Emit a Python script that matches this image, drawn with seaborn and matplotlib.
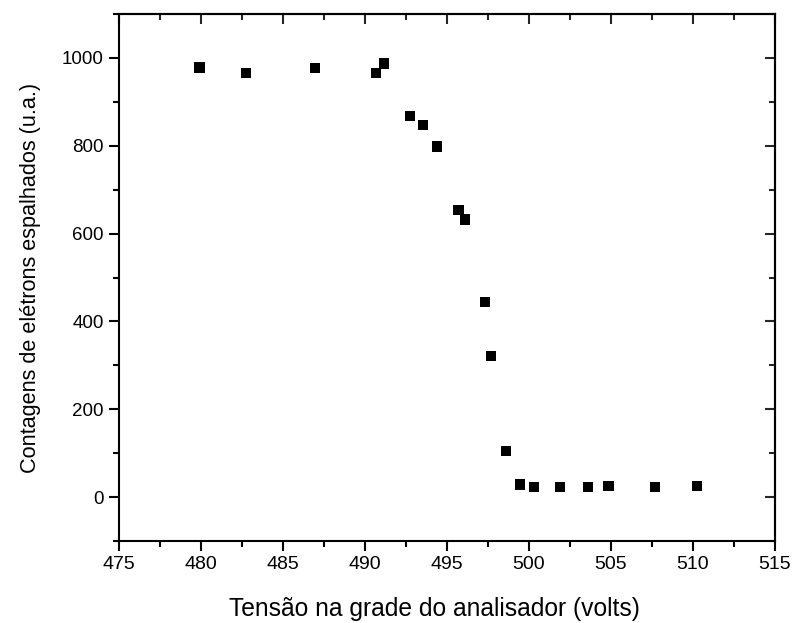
import matplotlib
matplotlib.use("Agg")
import matplotlib.pyplot as plt
import seaborn as sns
import pandas as pd
from matplotlib.ticker import MultipleLocator

voltage = [479.9, 482.75, 486.95, 490.65, 491.15, 492.75, 493.55, 494.4, 495.7, 496.1,
           497.3, 497.7, 498.6, 499.45, 500.3, 501.9, 503.6, 504.85, 507.7, 510.25]
counts = [978, 966, 977, 965, 987, 868, 847, 798, 654, 632,
          444, 321, 105, 29, 23, 23, 23, 26, 23, 26]

df = pd.DataFrame({"v": voltage, "c": counts})

sns.set_theme(style="ticks")
plt.rcParams['font.family'] = ['Liberation Sans', 'DejaVu Sans']
plt.rcParams['text.color'] = 'black'
plt.rcParams['axes.labelcolor'] = 'black'

fig = plt.figure(figsize=(7.97, 6.23), dpi=100)
ax = fig.add_axes([0.1493, 0.1316, 0.8231, 0.8459])

sns.scatterplot(data=df, x="v", y="c", marker="s", s=55, color="black",
                edgecolor="none", ax=ax, zorder=3)

ax.set_xlim(475, 515)
ax.set_ylim(-100, 1100)
ax.xaxis.set_major_locator(MultipleLocator(5))
ax.xaxis.set_minor_locator(MultipleLocator(2.5))
ax.yaxis.set_major_locator(MultipleLocator(200))
ax.yaxis.set_minor_locator(MultipleLocator(100))
ax.set_yticks([0, 200, 400, 600, 800, 1000])

for sp in ax.spines.values():
    sp.set_linewidth(1.5)
    sp.set_color("black")

ax.tick_params(which="both", direction="out", top=False, right=False, width=1.5,
               colors="black", pad=4)
ax.tick_params(axis="x", labelsize=14)
ax.tick_params(axis="y", labelsize=13.5)
ax.tick_params(which="major", length=7)
ax.tick_params(which="minor", length=4)

# mirrored inward ticks on top and right
axt = ax.secondary_xaxis("top")
axt.xaxis.set_major_locator(MultipleLocator(5))
axt.xaxis.set_minor_locator(MultipleLocator(2.5))
axt.tick_params(which="both", direction="in", width=1.5, labeltop=False)
axt.tick_params(which="major", length=7)
axt.tick_params(which="minor", length=4)
axr = ax.secondary_yaxis("right")
axr.yaxis.set_major_locator(MultipleLocator(200))
axr.yaxis.set_minor_locator(MultipleLocator(100))
axr.tick_params(which="both", direction="in", width=1.5, labelright=False)
axr.tick_params(which="major", length=7)
axr.tick_params(which="minor", length=4)
for a in (axt, axr):
    for sp in a.spines.values():
        sp.set_linewidth(1.5)

ax.set_xlabel("Tensão na grade do analisador (volts)", fontsize=17.7, labelpad=17)
ax.xaxis.label.set_x(0.481)
ax.set_ylabel("Contagens de elétrons espalhados (u.a.)", fontsize=15.6, labelpad=15)

fig.savefig("out.png", dpi=100)
